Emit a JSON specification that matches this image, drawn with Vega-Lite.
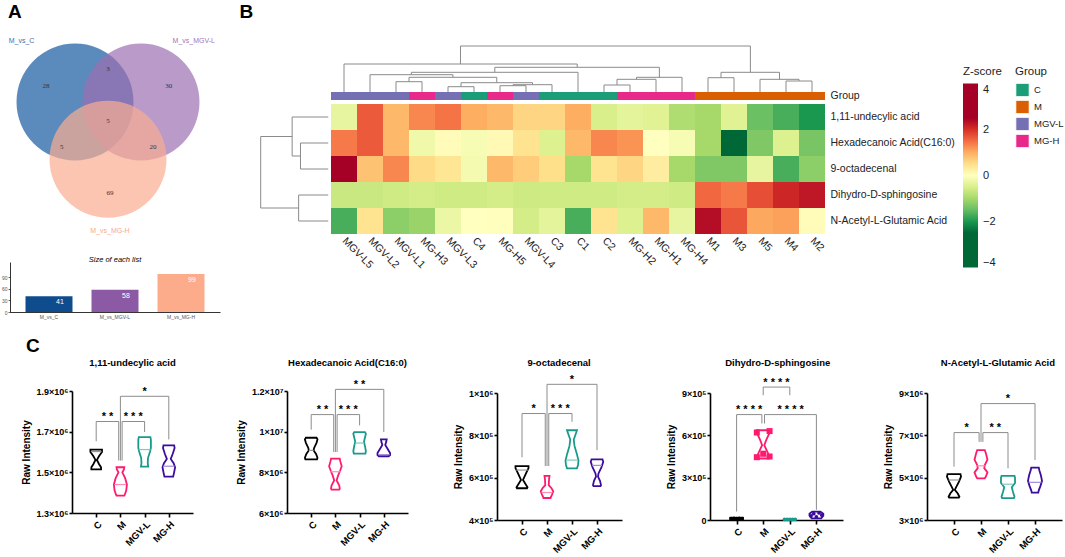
{
"$schema": "https://vega.github.io/schema/vega-lite/v6.json",
"background": "white",
"width": 1065, "height": 557, "autosize": "none", "padding": 0,
"config": {"view": {"stroke": null}, "font": "Liberation Sans",
  "axis": {"grid": false, "domainColor": "#000", "tickColor": "#000", "labelColor": "#000", "titleColor": "#000"}},
"datasets": {
 "venn": [{"set":"M_vs_C","cx":0,"cy":0},{"set":"M_vs_MGV-L","cx":1,"cy":0},{"set":"M_vs_MG-H","cx":0.5,"cy":-0.866}],
 "vennNums": [{"n":28,"x":-0.44,"y":0.24},{"n":3,"x":0.5,"y":0.5},{"n":30,"x":1.42,"y":0.24},{"n":5,"x":0.5,"y":-0.29},{"n":5,"x":-0.2,"y":-0.68},{"n":20,"x":1.18,"y":-0.68},{"n":69,"x":0.53,"y":-1.38}],
 "vennSets": [{"set":"M_vs_C","x":-0.81,"y":0.92},{"set":"M_vs_MGV-L","x":1.8,"y":0.92},{"set":"M_vs_MG-H","x":0.53,"y":-1.95}],
 "lists": [{"list":"M_vs_C","n":41},{"list":"M_vs_MGV-L","n":58},{"list":"M_vs_MG-H","n":99}],
 "rowDendro": [{"x":33,"x2":33,"y":1.5,"y2":2.5},{"x":3,"x2":33,"y":1.5,"y2":1.5},{"x":3,"x2":33,"y":2.5,"y2":2.5},
  {"x":42,"x2":42,"y":0.5,"y2":2},{"x":3,"x2":42,"y":0.5,"y2":0.5},{"x":33,"x2":42,"y":2,"y2":2},
  {"x":35,"x2":35,"y":3.5,"y2":4.5},{"x":3,"x2":35,"y":3.5,"y2":3.5},{"x":3,"x2":35,"y":4.5,"y2":4.5},
  {"x":76,"x2":76,"y":1.25,"y2":4},{"x":42,"x2":76,"y":1.25,"y2":1.25},{"x":35,"x2":76,"y":4,"y2":4}],
 "colDendro": [
  {"x":2.5,"x2":3.5,"y":10.3,"y2":10.3},{"x":2.5,"x2":2.5,"y":0,"y2":10.3},{"x":3.5,"x2":3.5,"y":0,"y2":10.3},
  {"x":4.5,"x2":5.5,"y":5.3,"y2":5.3},{"x":4.5,"x2":4.5,"y":0,"y2":5.3},{"x":5.5,"x2":5.5,"y":0,"y2":5.3},
  {"x":6.5,"x2":7.5,"y":6.3,"y2":6.3},{"x":6.5,"x2":6.5,"y":0,"y2":6.3},{"x":7.5,"x2":7.5,"y":0,"y2":6.3},
  {"x":7,"x2":8.5,"y":7.3,"y2":7.3},{"x":7,"x2":7,"y":6.3,"y2":7.3},{"x":8.5,"x2":8.5,"y":0,"y2":7.3},
  {"x":5,"x2":7.75,"y":9.3,"y2":9.3},{"x":5,"x2":5,"y":5.3,"y2":9.3},{"x":7.75,"x2":7.75,"y":7.3,"y2":9.3},
  {"x":3,"x2":6.375,"y":14.7,"y2":14.7},{"x":3,"x2":3,"y":10.3,"y2":14.7},{"x":6.375,"x2":6.375,"y":9.3,"y2":14.7},
  {"x":1.5,"x2":4.69,"y":17.3,"y2":17.3},{"x":1.5,"x2":1.5,"y":0,"y2":17.3},{"x":4.69,"x2":4.69,"y":14.7,"y2":17.3},
  {"x":3.09,"x2":9.5,"y":19.7,"y2":19.7},{"x":3.09,"x2":3.09,"y":17.3,"y2":19.7},{"x":9.5,"x2":9.5,"y":0,"y2":19.7},
  {"x":10.5,"x2":11.5,"y":7,"y2":7},{"x":10.5,"x2":10.5,"y":0,"y2":7},{"x":11.5,"x2":11.5,"y":0,"y2":7},
  {"x":11,"x2":12.5,"y":12.7,"y2":12.7},{"x":11,"x2":11,"y":7,"y2":12.7},{"x":12.5,"x2":12.5,"y":0,"y2":12.7},
  {"x":11.75,"x2":13.5,"y":14.7,"y2":14.7},{"x":11.75,"x2":11.75,"y":12.7,"y2":14.7},{"x":13.5,"x2":13.5,"y":0,"y2":14.7},
  {"x":6.3,"x2":12.63,"y":24.7,"y2":24.7},{"x":6.3,"x2":6.3,"y":19.7,"y2":24.7},{"x":12.63,"x2":12.63,"y":14.7,"y2":24.7},
  {"x":0.5,"x2":9.47,"y":28,"y2":28},{"x":0.5,"x2":0.5,"y":0,"y2":28},{"x":9.47,"x2":9.47,"y":24.7,"y2":28},
  {"x":14.5,"x2":15.5,"y":14.3,"y2":14.3},{"x":14.5,"x2":14.5,"y":0,"y2":14.3},{"x":15.5,"x2":15.5,"y":0,"y2":14.3},
  {"x":17.5,"x2":18.5,"y":11,"y2":11},{"x":17.5,"x2":17.5,"y":0,"y2":11},{"x":18.5,"x2":18.5,"y":0,"y2":11},
  {"x":16.5,"x2":18,"y":12.7,"y2":12.7},{"x":16.5,"x2":16.5,"y":0,"y2":12.7},{"x":18,"x2":18,"y":11,"y2":12.7},
  {"x":15,"x2":17.25,"y":19.7,"y2":19.7},{"x":15,"x2":15,"y":14.3,"y2":19.7},{"x":17.25,"x2":17.25,"y":12.7,"y2":19.7},
  {"x":4.98,"x2":16.13,"y":46,"y2":46},{"x":4.98,"x2":4.98,"y":28,"y2":46},{"x":16.13,"x2":16.13,"y":19.7,"y2":46}],
 "groups": [{"s":"MGV-L5","grp":"MGV-L"},{"s":"MGV-L2","grp":"MGV-L"},{"s":"MGV-L1","grp":"MGV-L"},{"s":"MG-H3","grp":"MG-H"},{"s":"MGV-L3","grp":"MGV-L"},{"s":"C4","grp":"C"},{"s":"MG-H5","grp":"MG-H"},{"s":"MGV-L4","grp":"MGV-L"},{"s":"C3","grp":"C"},{"s":"C1","grp":"C"},{"s":"C2","grp":"C"},{"s":"MG-H2","grp":"MG-H"},{"s":"MG-H1","grp":"MG-H"},{"s":"MG-H4","grp":"MG-H"},{"s":"M1","grp":"M"},{"s":"M3","grp":"M"},{"s":"M5","grp":"M"},{"s":"M4","grp":"M"},{"s":"M2","grp":"M"}],
 "heat": [
  {"m":"1,11-undecylic acid","s":"MGV-L5","z":-0.3},{"m":"1,11-undecylic acid","s":"MGV-L2","z":1.65},{"m":"1,11-undecylic acid","s":"MGV-L1","z":0.9},{"m":"1,11-undecylic acid","s":"MG-H3","z":1.3},{"m":"1,11-undecylic acid","s":"MGV-L3","z":1.45},{"m":"1,11-undecylic acid","s":"C4","z":1.0},{"m":"1,11-undecylic acid","s":"MG-H5","z":0.9},{"m":"1,11-undecylic acid","s":"MGV-L4","z":0.6},{"m":"1,11-undecylic acid","s":"C3","z":0.6},{"m":"1,11-undecylic acid","s":"C1","z":1.0},{"m":"1,11-undecylic acid","s":"C2","z":-0.5},{"m":"1,11-undecylic acid","s":"MG-H2","z":-0.35},{"m":"1,11-undecylic acid","s":"MG-H1","z":-0.4},{"m":"1,11-undecylic acid","s":"MG-H4","z":-0.9},{"m":"1,11-undecylic acid","s":"M1","z":-1.0},{"m":"1,11-undecylic acid","s":"M3","z":-0.4},{"m":"1,11-undecylic acid","s":"M5","z":-1.45},{"m":"1,11-undecylic acid","s":"M4","z":-1.7},{"m":"1,11-undecylic acid","s":"M2","z":-2.0},
  {"m":"Hexadecanoic Acid(C16:0)","s":"MGV-L5","z":1.4},{"m":"Hexadecanoic Acid(C16:0)","s":"MGV-L2","z":1.65},{"m":"Hexadecanoic Acid(C16:0)","s":"MGV-L1","z":0.9},{"m":"Hexadecanoic Acid(C16:0)","s":"MG-H3","z":-0.2},{"m":"Hexadecanoic Acid(C16:0)","s":"MGV-L3","z":0.05},{"m":"Hexadecanoic Acid(C16:0)","s":"C4","z":-0.1},{"m":"Hexadecanoic Acid(C16:0)","s":"MG-H5","z":0.1},{"m":"Hexadecanoic Acid(C16:0)","s":"MGV-L4","z":0.45},{"m":"Hexadecanoic Acid(C16:0)","s":"C3","z":-0.45},{"m":"Hexadecanoic Acid(C16:0)","s":"C1","z":0.9},{"m":"Hexadecanoic Acid(C16:0)","s":"C2","z":1.3},{"m":"Hexadecanoic Acid(C16:0)","s":"MG-H2","z":1.2},{"m":"Hexadecanoic Acid(C16:0)","s":"MG-H1","z":0.0},{"m":"Hexadecanoic Acid(C16:0)","s":"MG-H4","z":-0.1},{"m":"Hexadecanoic Acid(C16:0)","s":"M1","z":-1.0},{"m":"Hexadecanoic Acid(C16:0)","s":"M3","z":-3.0},{"m":"Hexadecanoic Acid(C16:0)","s":"M5","z":-1.3},{"m":"Hexadecanoic Acid(C16:0)","s":"M4","z":-0.45},{"m":"Hexadecanoic Acid(C16:0)","s":"M2","z":-1.35},
  {"m":"9-octadecenal","s":"MGV-L5","z":3.0},{"m":"9-octadecenal","s":"MGV-L2","z":0.8},{"m":"9-octadecenal","s":"MGV-L1","z":1.3},{"m":"9-octadecenal","s":"MG-H3","z":0.55},{"m":"9-octadecenal","s":"MGV-L3","z":0.4},{"m":"9-octadecenal","s":"C4","z":-0.15},{"m":"9-octadecenal","s":"MG-H5","z":0.9},{"m":"9-octadecenal","s":"MGV-L4","z":0.7},{"m":"9-octadecenal","s":"C3","z":0.5},{"m":"9-octadecenal","s":"C1","z":-1.0},{"m":"9-octadecenal","s":"C2","z":0.45},{"m":"9-octadecenal","s":"MG-H2","z":0.6},{"m":"9-octadecenal","s":"MG-H1","z":0.3},{"m":"9-octadecenal","s":"MG-H4","z":-1.0},{"m":"9-octadecenal","s":"M1","z":-1.3},{"m":"9-octadecenal","s":"M3","z":-1.3},{"m":"9-octadecenal","s":"M5","z":-0.3},{"m":"9-octadecenal","s":"M4","z":-1.7},{"m":"9-octadecenal","s":"M2","z":-1.2},
  {"m":"Dihydro-D-sphingosine","s":"MGV-L5","z":-0.65},{"m":"Dihydro-D-sphingosine","s":"MGV-L2","z":-0.65},{"m":"Dihydro-D-sphingosine","s":"MGV-L1","z":-0.6},{"m":"Dihydro-D-sphingosine","s":"MG-H3","z":-0.55},{"m":"Dihydro-D-sphingosine","s":"MGV-L3","z":-0.6},{"m":"Dihydro-D-sphingosine","s":"C4","z":-0.6},{"m":"Dihydro-D-sphingosine","s":"MG-H5","z":-0.55},{"m":"Dihydro-D-sphingosine","s":"MGV-L4","z":-0.62},{"m":"Dihydro-D-sphingosine","s":"C3","z":-0.6},{"m":"Dihydro-D-sphingosine","s":"C1","z":-0.6},{"m":"Dihydro-D-sphingosine","s":"C2","z":-0.6},{"m":"Dihydro-D-sphingosine","s":"MG-H2","z":-0.55},{"m":"Dihydro-D-sphingosine","s":"MG-H1","z":-0.55},{"m":"Dihydro-D-sphingosine","s":"MG-H4","z":-0.6},{"m":"Dihydro-D-sphingosine","s":"M1","z":1.55},{"m":"Dihydro-D-sphingosine","s":"M3","z":1.4},{"m":"Dihydro-D-sphingosine","s":"M5","z":1.75},{"m":"Dihydro-D-sphingosine","s":"M4","z":2.1},{"m":"Dihydro-D-sphingosine","s":"M2","z":2.25},
  {"m":"N-Acetyl-L-Glutamic Acid","s":"MGV-L5","z":-1.7},{"m":"N-Acetyl-L-Glutamic Acid","s":"MGV-L2","z":0.45},{"m":"N-Acetyl-L-Glutamic Acid","s":"MGV-L1","z":-1.2},{"m":"N-Acetyl-L-Glutamic Acid","s":"MG-H3","z":-1.1},{"m":"N-Acetyl-L-Glutamic Acid","s":"MGV-L3","z":-0.25},{"m":"N-Acetyl-L-Glutamic Acid","s":"C4","z":0.0},{"m":"N-Acetyl-L-Glutamic Acid","s":"MG-H5","z":0.02},{"m":"N-Acetyl-L-Glutamic Acid","s":"MGV-L4","z":-0.55},{"m":"N-Acetyl-L-Glutamic Acid","s":"C3","z":-0.35},{"m":"N-Acetyl-L-Glutamic Acid","s":"C1","z":-1.7},{"m":"N-Acetyl-L-Glutamic Acid","s":"C2","z":0.45},{"m":"N-Acetyl-L-Glutamic Acid","s":"MG-H2","z":-0.45},{"m":"N-Acetyl-L-Glutamic Acid","s":"MG-H1","z":0.9},{"m":"N-Acetyl-L-Glutamic Acid","s":"MG-H4","z":-0.3},{"m":"N-Acetyl-L-Glutamic Acid","s":"M1","z":2.35},{"m":"N-Acetyl-L-Glutamic Acid","s":"M3","z":1.7},{"m":"N-Acetyl-L-Glutamic Acid","s":"M5","z":1.05},{"m":"N-Acetyl-L-Glutamic Acid","s":"M4","z":1.1},{"m":"N-Acetyl-L-Glutamic Acid","s":"M2","z":0.05}],
 "violin": [
  {"p":1,"g":"C","v":1612000,"lo":0.76,"hi":1.24},{"p":1,"g":"C","v":1600000,"lo":0.76,"hi":1.24},{"p":1,"g":"C","v":1580000,"lo":0.88,"hi":1.12},{"p":1,"g":"C","v":1561000,"lo":0.97,"hi":1.03},{"p":1,"g":"C","v":1540000,"lo":0.88,"hi":1.12},{"p":1,"g":"C","v":1525000,"lo":0.8,"hi":1.2},{"p":1,"g":"C","v":1515000,"lo":0.8,"hi":1.2},
  {"p":1,"g":"M","v":1525000,"lo":1.84,"hi":2.16},{"p":1,"g":"M","v":1515000,"lo":1.85,"hi":2.15},{"p":1,"g":"M","v":1500000,"lo":1.92,"hi":2.08},{"p":1,"g":"M","v":1470000,"lo":1.8,"hi":2.2},{"p":1,"g":"M","v":1440000,"lo":1.73,"hi":2.27},{"p":1,"g":"M","v":1410000,"lo":1.76,"hi":2.24},{"p":1,"g":"M","v":1390000,"lo":1.82,"hi":2.18},{"p":1,"g":"M","v":1385000,"lo":1.84,"hi":2.16},
  {"p":1,"g":"MGV-L","v":1673000,"lo":2.76,"hi":3.24},{"p":1,"g":"MGV-L","v":1660000,"lo":2.74,"hi":3.26},{"p":1,"g":"MGV-L","v":1620000,"lo":2.74,"hi":3.26},{"p":1,"g":"MGV-L","v":1600000,"lo":2.78,"hi":3.22},{"p":1,"g":"MGV-L","v":1570000,"lo":2.86,"hi":3.14},{"p":1,"g":"MGV-L","v":1545000,"lo":2.87,"hi":3.13},{"p":1,"g":"MGV-L","v":1528000,"lo":2.85,"hi":3.15},
  {"p":1,"g":"MG-H","v":1633000,"lo":3.78,"hi":4.22},{"p":1,"g":"MG-H","v":1620000,"lo":3.76,"hi":4.24},{"p":1,"g":"MG-H","v":1590000,"lo":3.84,"hi":4.16},{"p":1,"g":"MG-H","v":1566000,"lo":3.92,"hi":4.08},{"p":1,"g":"MG-H","v":1545000,"lo":3.8,"hi":4.2},{"p":1,"g":"MG-H","v":1525000,"lo":3.74,"hi":4.26},{"p":1,"g":"MG-H","v":1500000,"lo":3.78,"hi":4.22},{"p":1,"g":"MG-H","v":1479000,"lo":3.82,"hi":4.18},
  {"p":2,"g":"C","v":9700000,"lo":0.78,"hi":1.22},{"p":2,"g":"C","v":9620000,"lo":0.74,"hi":1.26},{"p":2,"g":"C","v":9450000,"lo":0.78,"hi":1.22},{"p":2,"g":"C","v":9200000,"lo":0.88,"hi":1.12},{"p":2,"g":"C","v":9080000,"lo":0.9,"hi":1.1},{"p":2,"g":"C","v":8900000,"lo":0.8,"hi":1.2},{"p":2,"g":"C","v":8720000,"lo":0.74,"hi":1.26},{"p":2,"g":"C","v":8640000,"lo":0.76,"hi":1.24},
  {"p":2,"g":"M","v":8670000,"lo":1.82,"hi":2.18},{"p":2,"g":"M","v":8550000,"lo":1.8,"hi":2.2},{"p":2,"g":"M","v":8300000,"lo":1.74,"hi":2.26},{"p":2,"g":"M","v":8100000,"lo":1.8,"hi":2.2},{"p":2,"g":"M","v":7800000,"lo":1.9,"hi":2.1},{"p":2,"g":"M","v":7600000,"lo":1.95,"hi":2.05},{"p":2,"g":"M","v":7350000,"lo":1.84,"hi":2.16},{"p":2,"g":"M","v":7200000,"lo":1.82,"hi":2.18},{"p":2,"g":"M","v":7150000,"lo":1.84,"hi":2.16},
  {"p":2,"g":"MGV-L","v":9980000,"lo":2.78,"hi":3.22},{"p":2,"g":"MGV-L","v":9900000,"lo":2.74,"hi":3.26},{"p":2,"g":"MGV-L","v":9700000,"lo":2.78,"hi":3.22},{"p":2,"g":"MGV-L","v":9500000,"lo":2.82,"hi":3.18},{"p":2,"g":"MGV-L","v":9300000,"lo":2.78,"hi":3.22},{"p":2,"g":"MGV-L","v":9050000,"lo":2.74,"hi":3.26},{"p":2,"g":"MGV-L","v":8920000,"lo":2.76,"hi":3.24},
  {"p":2,"g":"MG-H","v":9620000,"lo":3.88,"hi":4.12},{"p":2,"g":"MG-H","v":9500000,"lo":3.9,"hi":4.1},{"p":2,"g":"MG-H","v":9350000,"lo":3.94,"hi":4.06},{"p":2,"g":"MG-H","v":9150000,"lo":3.84,"hi":4.16},{"p":2,"g":"MG-H","v":8950000,"lo":3.74,"hi":4.26},{"p":2,"g":"MG-H","v":8850000,"lo":3.74,"hi":4.26},{"p":2,"g":"MG-H","v":8790000,"lo":3.8,"hi":4.2},
  {"p":3,"g":"C","v":655000,"lo":0.74,"hi":1.26},{"p":3,"g":"C","v":645000,"lo":0.74,"hi":1.26},{"p":3,"g":"C","v":620000,"lo":0.84,"hi":1.16},{"p":3,"g":"C","v":589000,"lo":0.96,"hi":1.04},{"p":3,"g":"C","v":570000,"lo":0.86,"hi":1.14},{"p":3,"g":"C","v":555000,"lo":0.78,"hi":1.22},{"p":3,"g":"C","v":550000,"lo":0.8,"hi":1.2},
  {"p":3,"g":"M","v":608000,"lo":1.9,"hi":2.1},{"p":3,"g":"M","v":590000,"lo":1.92,"hi":2.08},{"p":3,"g":"M","v":565000,"lo":1.93,"hi":2.07},{"p":3,"g":"M","v":550000,"lo":1.82,"hi":2.18},{"p":3,"g":"M","v":535000,"lo":1.75,"hi":2.25},{"p":3,"g":"M","v":520000,"lo":1.8,"hi":2.2},{"p":3,"g":"M","v":504000,"lo":1.86,"hi":2.14},
  {"p":3,"g":"MGV-L","v":824000,"lo":2.8,"hi":3.2},{"p":3,"g":"MGV-L","v":810000,"lo":2.84,"hi":3.16},{"p":3,"g":"MGV-L","v":780000,"lo":2.93,"hi":3.07},{"p":3,"g":"MGV-L","v":750000,"lo":2.9,"hi":3.1},{"p":3,"g":"MGV-L","v":710000,"lo":2.8,"hi":3.2},{"p":3,"g":"MGV-L","v":680000,"lo":2.74,"hi":3.26},{"p":3,"g":"MGV-L","v":660000,"lo":2.76,"hi":3.24},{"p":3,"g":"MGV-L","v":644000,"lo":2.8,"hi":3.2},
  {"p":3,"g":"MG-H","v":686000,"lo":3.78,"hi":4.22},{"p":3,"g":"MG-H","v":675000,"lo":3.75,"hi":4.25},{"p":3,"g":"MG-H","v":650000,"lo":3.82,"hi":4.18},{"p":3,"g":"MG-H","v":620000,"lo":3.94,"hi":4.06},{"p":3,"g":"MG-H","v":605000,"lo":3.96,"hi":4.04},{"p":3,"g":"MG-H","v":585000,"lo":3.88,"hi":4.12},{"p":3,"g":"MG-H","v":565000,"lo":3.84,"hi":4.16},{"p":3,"g":"MG-H","v":560000,"lo":3.86,"hi":4.14},
  {"p":4,"g":"C","v":16000,"lo":0.76,"hi":1.24},{"p":4,"g":"C","v":5000,"lo":0.76,"hi":1.24},
  {"p":4,"g":"M","v":636000,"lo":1.76,"hi":2.24},{"p":4,"g":"M","v":610000,"lo":1.78,"hi":2.22},{"p":4,"g":"M","v":570000,"lo":1.88,"hi":2.12},{"p":4,"g":"M","v":530000,"lo":1.96,"hi":2.04},{"p":4,"g":"M","v":490000,"lo":1.86,"hi":2.14},{"p":4,"g":"M","v":450000,"lo":1.76,"hi":2.24},{"p":4,"g":"M","v":436000,"lo":1.78,"hi":2.22},
  {"p":4,"g":"MGV-L","v":8000,"lo":2.78,"hi":3.22},{"p":4,"g":"MGV-L","v":3000,"lo":2.78,"hi":3.22},
  {"p":4,"g":"MG-H","v":60000,"lo":3.85,"hi":4.15},{"p":4,"g":"MG-H","v":45000,"lo":3.74,"hi":4.26},{"p":4,"g":"MG-H","v":30000,"lo":3.74,"hi":4.26},{"p":4,"g":"MG-H","v":12000,"lo":3.82,"hi":4.18},
  {"p":5,"g":"C","v":5170000,"lo":0.76,"hi":1.24},{"p":5,"g":"C","v":5050000,"lo":0.74,"hi":1.26},{"p":5,"g":"C","v":4800000,"lo":0.82,"hi":1.18},{"p":5,"g":"C","v":4550000,"lo":0.92,"hi":1.08},{"p":5,"g":"C","v":4420000,"lo":0.97,"hi":1.03},{"p":5,"g":"C","v":4250000,"lo":0.86,"hi":1.14},{"p":5,"g":"C","v":4100000,"lo":0.8,"hi":1.2},{"p":5,"g":"C","v":4060000,"lo":0.82,"hi":1.18},
  {"p":5,"g":"M","v":6300000,"lo":1.86,"hi":2.14},{"p":5,"g":"M","v":6150000,"lo":1.82,"hi":2.18},{"p":5,"g":"M","v":5850000,"lo":1.76,"hi":2.24},{"p":5,"g":"M","v":5600000,"lo":1.86,"hi":2.14},{"p":5,"g":"M","v":5450000,"lo":1.88,"hi":2.12},{"p":5,"g":"M","v":5250000,"lo":1.76,"hi":2.24},{"p":5,"g":"M","v":5050000,"lo":1.82,"hi":2.18},{"p":5,"g":"M","v":4970000,"lo":1.86,"hi":2.14},
  {"p":5,"g":"MGV-L","v":5080000,"lo":2.76,"hi":3.24},{"p":5,"g":"MGV-L","v":5000000,"lo":2.74,"hi":3.26},{"p":5,"g":"MGV-L","v":4750000,"lo":2.74,"hi":3.26},{"p":5,"g":"MGV-L","v":4550000,"lo":2.86,"hi":3.14},{"p":5,"g":"MGV-L","v":4350000,"lo":2.82,"hi":3.18},{"p":5,"g":"MGV-L","v":4100000,"lo":2.76,"hi":3.24},{"p":5,"g":"MGV-L","v":4030000,"lo":2.78,"hi":3.22},
  {"p":5,"g":"MG-H","v":5470000,"lo":3.86,"hi":4.14},{"p":5,"g":"MG-H","v":5350000,"lo":3.84,"hi":4.16},{"p":5,"g":"MG-H","v":5100000,"lo":3.78,"hi":4.22},{"p":5,"g":"MG-H","v":4850000,"lo":3.74,"hi":4.26},{"p":5,"g":"MG-H","v":4600000,"lo":3.8,"hi":4.2},{"p":5,"g":"MG-H","v":4400000,"lo":3.86,"hi":4.14},{"p":5,"g":"MG-H","v":4290000,"lo":3.88,"hi":4.12}],
 "medians": [
  {"p":1,"g":"C","v":1602000,"lo":0.78,"hi":1.22},{"p":1,"g":"M","v":1440000,"lo":1.76,"hi":2.24},{"p":1,"g":"MGV-L","v":1612000,"lo":2.76,"hi":3.24},{"p":1,"g":"MG-H","v":1530000,"lo":3.76,"hi":4.24},
  {"p":2,"g":"C","v":9080000,"lo":0.9,"hi":1.1},{"p":2,"g":"M","v":8030000,"lo":1.79,"hi":2.21},{"p":2,"g":"MGV-L","v":9440000,"lo":2.81,"hi":3.19},{"p":2,"g":"MG-H","v":8870000,"lo":3.76,"hi":4.24},
  {"p":3,"g":"C","v":636000,"lo":0.77,"hi":1.23},{"p":3,"g":"M","v":530000,"lo":1.78,"hi":2.22},{"p":3,"g":"MGV-L","v":683000,"lo":2.76,"hi":3.24},{"p":3,"g":"MG-H","v":658000,"lo":3.8,"hi":4.2},
  {"p":4,"g":"M","v":453000,"lo":1.78,"hi":2.22},
  {"p":5,"g":"C","v":4890000,"lo":0.8,"hi":1.2},{"p":5,"g":"M","v":5560000,"lo":1.86,"hi":2.14},{"p":5,"g":"MGV-L","v":4690000,"lo":2.78,"hi":3.18},{"p":5,"g":"MG-H","v":4780000,"lo":3.76,"hi":4.24}],
 "brackets": [
  {"p":1,"x":1,"x2":1,"y":1653000,"y2":1750000},{"p":1,"x":1,"x2":1.93,"y":1750000,"y2":1750000},{"p":1,"x":1.93,"x2":1.93,"y":1558000,"y2":1750000},{"p":1,"x":2.07,"x2":2.07,"y":1558000,"y2":1750000},{"p":1,"x":2.07,"x2":3,"y":1750000,"y2":1750000},{"p":1,"x":3,"x2":3,"y":1698000,"y2":1750000},{"p":1,"x":2,"x2":2,"y":1558000,"y2":1874000},{"p":1,"x":2,"x2":4,"y":1874000,"y2":1874000},{"p":1,"x":4,"x2":4,"y":1662000,"y2":1874000},
  {"p":2,"x":1,"x2":1,"y":10100000,"y2":10840000},{"p":2,"x":1,"x2":1.93,"y":10840000,"y2":10840000},{"p":2,"x":1.93,"x2":1.93,"y":9000000,"y2":10840000},{"p":2,"x":2.07,"x2":2.07,"y":9000000,"y2":10840000},{"p":2,"x":2.07,"x2":3,"y":10840000,"y2":10840000},{"p":2,"x":3,"x2":3,"y":10310000,"y2":10840000},{"p":2,"x":2,"x2":2,"y":9000000,"y2":12080000},{"p":2,"x":2,"x2":4,"y":12080000,"y2":12080000},{"p":2,"x":4,"x2":4,"y":9980000,"y2":12080000},
  {"p":3,"x":1,"x2":1,"y":696000,"y2":903000},{"p":3,"x":1,"x2":1.93,"y":903000,"y2":903000},{"p":3,"x":1.93,"x2":1.93,"y":655000,"y2":903000},{"p":3,"x":2.07,"x2":2.07,"y":655000,"y2":903000},{"p":3,"x":2.07,"x2":3,"y":903000,"y2":903000},{"p":3,"x":3,"x2":3,"y":864000,"y2":903000},{"p":3,"x":2,"x2":2,"y":655000,"y2":1041000},{"p":3,"x":2,"x2":4,"y":1041000,"y2":1041000},{"p":3,"x":4,"x2":4,"y":730000,"y2":1041000},
  {"p":4,"x":1,"x2":1,"y":60000,"y2":747000},{"p":4,"x":1,"x2":1.95,"y":747000,"y2":747000},{"p":4,"x":1.95,"x2":1.95,"y":684000,"y2":747000},{"p":4,"x":2.05,"x2":2.05,"y":684000,"y2":747000},{"p":4,"x":2.05,"x2":4,"y":747000,"y2":747000},{"p":4,"x":4,"x2":4,"y":72000,"y2":747000},{"p":4,"x":2,"x2":2,"y":884000,"y2":942000},{"p":4,"x":2,"x2":3,"y":942000,"y2":942000},{"p":4,"x":3,"x2":3,"y":884000,"y2":942000},
  {"p":5,"x":1,"x2":1,"y":5520000,"y2":7130000},{"p":5,"x":1,"x2":1.93,"y":7130000,"y2":7130000},{"p":5,"x":1.93,"x2":1.93,"y":6690000,"y2":7130000},{"p":5,"x":2.07,"x2":2.07,"y":6690000,"y2":7130000},{"p":5,"x":2.07,"x2":3,"y":7130000,"y2":7130000},{"p":5,"x":3,"x2":3,"y":5440000,"y2":7130000},{"p":5,"x":2,"x2":2,"y":6690000,"y2":8500000},{"p":5,"x":2,"x2":4,"y":8500000,"y2":8500000},{"p":5,"x":4,"x2":4,"y":5830000,"y2":8500000}],
 "stars": [
  {"p":1,"x":1.47,"v":1750000,"t":"* *"},{"p":1,"x":2.53,"v":1750000,"t":"* * *"},{"p":1,"x":3,"v":1874000,"t":"*"},
  {"p":2,"x":1.47,"v":10840000,"t":"* *"},{"p":2,"x":2.53,"v":10840000,"t":"* * *"},{"p":2,"x":3,"v":12080000,"t":"* *"},
  {"p":3,"x":1.47,"v":903000,"t":"*"},{"p":3,"x":2.53,"v":903000,"t":"* * *"},{"p":3,"x":3,"v":1041000,"t":"*"},
  {"p":4,"x":1.47,"v":747000,"t":"* * * *"},{"p":4,"x":3.03,"v":747000,"t":"* * * *"},{"p":4,"x":2.5,"v":942000,"t":"* * * *"},
  {"p":5,"x":1.47,"v":7130000,"t":"*"},{"p":5,"x":2.53,"v":7130000,"t":"* *"},{"p":5,"x":3,"v":8500000,"t":"*"}],
 "points": [
  {"g":"C","x":0.8,"v":10000},{"g":"C","x":0.9,"v":12000},{"g":"C","x":1.0,"v":9000},{"g":"C","x":1.1,"v":12000},{"g":"C","x":1.2,"v":10000},
  {"g":"M","x":1.76,"v":620000},{"g":"M","x":2.24,"v":630000},{"g":"M","x":1.76,"v":445000},{"g":"M","x":2.24,"v":450000},{"g":"M","x":2.0,"v":470000},
  {"g":"MGV-L","x":2.8,"v":5000},{"g":"MGV-L","x":2.9,"v":5000},{"g":"MGV-L","x":3.0,"v":5000},{"g":"MGV-L","x":3.1,"v":5000},{"g":"MGV-L","x":3.2,"v":5000},
  {"g":"MG-H","x":3.8,"v":30000},{"g":"MG-H","x":3.9,"v":45000},{"g":"MG-H","x":4.0,"v":22000},{"g":"MG-H","x":4.1,"v":50000},{"g":"MG-H","x":4.2,"v":35000}]
},
"resolve": {"scale": {"x": "independent", "y": "independent", "color": "independent", "fill": "independent", "stroke": "independent"}, "axis": {"x": "independent", "y": "independent"}, "legend": {"color": "independent"}},
"layer": [
 {"layer": [
   {"data": {"name": "venn"}, "mark": {"type": "point", "filled": true, "shape": "circle", "size": 13685, "opacity": 0.7, "strokeWidth": 0},
    "encoding": {"x": {"field": "cx", "type": "quantitative", "scale": {"domain": [-0.985, 2.197], "range": [10, 220], "nice": false, "zero": false}, "axis": null},
      "y": {"field": "cy", "type": "quantitative", "scale": {"domain": [-2.091, 0.879], "range": [240, 44], "nice": false, "zero": false}, "axis": null},
      "fill": {"field": "set", "type": "nominal", "scale": {"domain": ["M_vs_C","M_vs_MGV-L","M_vs_MG-H"], "range": ["#1559a1","#9b6fb0","#faac91"]}, "legend": null}}},
   {"data": {"name": "vennNums"}, "mark": {"type": "text", "font": "Liberation Serif", "fontSize": 7, "color": "#333"},
    "encoding": {"x": {"field": "x", "type": "quantitative", "scale": {"domain": [-0.985, 2.197], "range": [10, 220], "nice": false, "zero": false}, "axis": null},
      "y": {"field": "y", "type": "quantitative", "scale": {"domain": [-2.091, 0.879], "range": [240, 44], "nice": false, "zero": false}, "axis": null}, "text": {"field": "n"}}},
   {"data": {"name": "vennSets"}, "mark": {"type": "text", "fontSize": 7},
    "encoding": {"x": {"field": "x", "type": "quantitative", "scale": {"domain": [-0.985, 2.197], "range": [10, 220], "nice": false, "zero": false}, "axis": null},
      "y": {"field": "y", "type": "quantitative", "scale": {"domain": [-2.091, 0.879], "range": [240, 44], "nice": false, "zero": false}, "axis": null}, "text": {"field": "set"},
      "color": {"field": "set", "type": "nominal", "scale": {"domain": ["M_vs_C","M_vs_MGV-L","M_vs_MG-H"], "range": ["#3c6ea8","#9f77b5","#f6a98e"]}, "legend": null}}},
   {"data": {"values": [{"t": "A"}]}, "mark": {"type": "text", "fontSize": 19, "fontWeight": "bold", "align": "left", "baseline": "alphabetic", "color": "#000"},
    "encoding": {"x": {"datum": -1.015, "type": "quantitative", "scale": {"domain": [-0.985, 2.197], "range": [10, 220], "nice": false, "zero": false}, "axis": null},
      "y": {"datum": 1.273, "type": "quantitative", "scale": {"domain": [-2.091, 0.879], "range": [240, 44], "nice": false, "zero": false}, "axis": null}, "text": {"field": "t"}}}
  ]},
 {"layer": [
   {"data": {"name": "lists"}, "mark": {"type": "bar"},
    "encoding": {"x": {"field": "list", "type": "nominal", "sort": null, "scale": {"range": [10, 220], "paddingInner": 0.288, "paddingOuter": 0.235},
        "axis": {"orient": "bottom", "offset": -245, "title": null, "labelAngle": 0, "labelFontSize": 5, "labelColor": "#555", "ticks": false, "labelPadding": 2, "domainWidth": 0.8}},
      "y": {"field": "n", "type": "quantitative", "scale": {"domain": [0, 125], "range": [312, 262]},
        "axis": {"orient": "left", "offset": -10, "values": [0,30,60,90], "title": null, "labelFontSize": 5, "labelColor": "#555", "tickSize": 2, "labelPadding": 1, "domainWidth": 0.8, "tickWidth": 0.6}},
      "color": {"field": "list", "type": "nominal", "scale": {"domain": ["M_vs_C","M_vs_MGV-L","M_vs_MG-H"], "range": ["#0e4c8e","#8c5aa4","#fcab8b"]}, "legend": null}}},
   {"data": {"name": "lists"}, "mark": {"type": "text", "color": "white", "fontSize": 7, "baseline": "top", "dy": 2, "dx": 11},
    "encoding": {"x": {"field": "list", "type": "nominal", "sort": null}, "y": {"field": "n", "type": "quantitative"}, "text": {"field": "n"}}},
   {"data": {"values": [{"t": "Size of each list"}]}, "mark": {"type": "text", "fontSize": 7.5, "fontStyle": "italic", "baseline": "alphabetic", "color": "#000"},
    "encoding": {"x": {"datum": "M_vs_MGV-L", "type": "nominal"}, "y": {"datum": 130, "type": "quantitative"}, "text": {"field": "t"}}}
  ]},
 {"layer": [
   {"data": {"name": "rowDendro"}, "mark": {"type": "rule", "color": "#8a8a8a", "strokeWidth": 1},
    "encoding": {"x": {"field": "x", "type": "quantitative", "scale": {"domain": [0, 111], "range": [331, 220]}, "axis": null}, "x2": {"field": "x2"},
      "y": {"field": "y", "type": "quantitative", "scale": {"domain": [0, 5], "range": [104, 234]}, "axis": null}, "y2": {"field": "y2"}}},
   {"data": {"values": [{"t": "B"}]}, "mark": {"type": "text", "fontSize": 19, "fontWeight": "bold", "align": "left", "baseline": "alphabetic", "color": "#000"},
    "encoding": {"x": {"datum": 99, "type": "quantitative", "axis": null}, "y": {"datum": -3.308, "type": "quantitative", "axis": null}, "text": {"field": "t"}}}
  ]},
 {"data": {"name": "colDendro"}, "mark": {"type": "rule", "color": "#8a8a8a", "strokeWidth": 1},
  "encoding": {"x": {"field": "x", "type": "quantitative", "scale": {"domain": [0, 19], "range": [331, 825]}, "axis": null}, "x2": {"field": "x2"},
    "y": {"field": "y", "type": "quantitative", "scale": {"domain": [0, 46], "range": [92, 46]}, "axis": null}, "y2": {"field": "y2"}}},
 {"data": {"name": "groups"}, "mark": {"type": "rect"},
  "encoding": {"x": {"field": "s", "type": "nominal", "sort": null, "scale": {"range": [331, 825], "paddingInner": 0, "paddingOuter": 0}, "axis": null},
    "y": {"datum": "Group", "type": "nominal", "scale": {"range": [92, 100], "paddingInner": 0, "paddingOuter": 0}, "axis": {"orient": "right", "offset": -240, "title": null, "ticks": false, "domain": false, "labelFontSize": 10.5, "labelColor": "#222", "labelPadding": 5}},
    "color": {"field": "grp", "type": "nominal", "scale": {"domain": ["C","M","MGV-L","MG-H"], "range": ["#1b9e77","#d95f02","#7570b3","#e7298a"]},
      "legend": {"title": "Group", "orient": "none", "legendX": 1015, "legendY": 66, "padding": 0, "symbolType": "square", "symbolSize": 180, "symbolStrokeColor": "#ffffff", "symbolStrokeWidth": 1, "labelFontSize": 9.5, "titleFontSize": 11.5, "titleFontWeight": "normal", "titleColor": "#222", "labelColor": "#222", "rowPadding": -4, "titlePadding": 5, "labelOffset": 4}}}},
 {"data": {"name": "heat"}, "mark": {"type": "rect"},
  "encoding": {"x": {"field": "s", "type": "nominal", "sort": ["MGV-L5","MGV-L2","MGV-L1","MG-H3","MGV-L3","C4","MG-H5","MGV-L4","C3","C1","C2","MG-H2","MG-H1","MG-H4","M1","M3","M5","M4","M2"],
      "scale": {"range": [331, 825], "paddingInner": 0, "paddingOuter": 0},
      "axis": {"orient": "bottom", "offset": -323, "title": null, "labelAngle": 45, "labelAlign": "left", "labelBaseline": "middle", "ticks": false, "domain": false, "labelFontSize": 10.5, "labelColor": "#222", "labelPadding": 5}},
    "y": {"field": "m", "type": "nominal", "sort": ["1,11-undecylic acid","Hexadecanoic Acid(C16:0)","9-octadecenal","Dihydro-D-sphingosine","N-Acetyl-L-Glutamic Acid"],
      "scale": {"range": [104, 234], "paddingInner": 0, "paddingOuter": 0},
      "axis": {"orient": "right", "offset": -240, "title": null, "ticks": false, "domain": false, "labelFontSize": 10.5, "labelColor": "#222", "labelPadding": 5}},
    "color": {"field": "z", "type": "quantitative",
      "scale": {"domain": [-4,-2.5,-2,-1.5,-1,-0.5,0,0.5,1,1.5,2,2.5,4], "range": ["#006837","#006837","#1a9850","#66bd63","#a6d96a","#d9ef8b","#ffffbf","#fee08b","#fdae61","#f46d43","#d73027","#a50026","#a50026"], "interpolate": "rgb"},
      "legend": {"title": "Z-score", "orient": "none", "legendX": 963, "legendY": 66, "padding": 0, "direction": "vertical", "gradientLength": 184, "gradientThickness": 15, "values": [-4,-2,0,2,4], "labelFontSize": 11, "titleFontSize": 11.5, "titleFontWeight": "normal", "titleColor": "#222", "labelColor": "#222", "titlePadding": 6, "labelOffset": 5}}}},
 {"layer": [
   {"data": {"name": "violin"}, "transform": [{"filter": "datum.p == 1"}],
    "mark": {"type": "area", "filled": false, "strokeWidth": 1.8, "orient": "horizontal"},
    "encoding": {"y": {"field": "v", "type": "quantitative", "scale": {"domain": [1300000, 1900000], "range": [513, 391], "nice": false, "zero": false},
        "axis": {"orient": "left", "offset": -72, "title": "Raw Intensity", "titleFontSize": 10, "titleFontWeight": "bold", "titlePadding": 5, "labelFontSize": 9, "labelFontWeight": "bold", "domainWidth": 1.6, "tickWidth": 1.6, "tickSize": 3, "labelPadding": 1, "values": [1300000,1500000,1700000,1900000], "labelExpr": "format(datum.value/1e6,'.1f') + '×10⁶'"}},
      "x": {"field": "lo", "type": "quantitative", "scale": {"domain": [0.354, 4.646], "range": [72, 193]},
        "axis": {"orient": "bottom", "offset": -44, "title": null, "values": [1,2,3,4], "labelExpr": "['','C','M','MGV-L','MG-H'][datum.value]", "labelOverlap": false, "labelAngle": -45, "labelAlign": "right", "labelBaseline": "top", "labelFontSize": 9.5, "labelFontWeight": "bold", "domainWidth": 1.6, "tickWidth": 1.6, "tickSize": 4, "labelPadding": 2}},
      "x2": {"field": "hi"},
      "color": {"field": "g", "type": "nominal", "scale": {"domain": ["C","M","MGV-L","MG-H"], "range": ["#000000","#ff1a6e","#1a9a8a","#3d0c9c"]}, "legend": null}}},
   {"data": {"name": "medians"}, "transform": [{"filter": "datum.p == 1"}], "mark": {"type": "rule", "strokeWidth": 1.2},
    "encoding": {"y": {"field": "v", "type": "quantitative"}, "x": {"field": "lo", "type": "quantitative"}, "x2": {"field": "hi"},
      "stroke": {"field": "g", "type": "nominal", "scale": {"domain": ["C","M","MGV-L","MG-H"], "range": ["#9a9a9a","#ff8ab3","#7ccbbf","#a08bd8"]}, "legend": null}}},
   {"data": {"name": "brackets"}, "transform": [{"filter": "datum.p == 1"}], "mark": {"type": "rule", "color": "#8c8c8c", "strokeWidth": 1},
    "encoding": {"x": {"field": "x", "type": "quantitative"}, "x2": {"field": "x2"}, "y": {"field": "y", "type": "quantitative"}, "y2": {"field": "y2"}}},
   {"data": {"name": "stars"}, "transform": [{"filter": "datum.p == 1"}], "mark": {"type": "text", "fontSize": 11, "fontWeight": "bold", "baseline": "alphabetic", "dy": -1.5, "color": "#000"},
    "encoding": {"x": {"field": "x", "type": "quantitative"}, "y": {"field": "v", "type": "quantitative"}, "text": {"field": "t"}}},
   {"data": {"values": [{"t": "1,11-undecylic acid"}]}, "mark": {"type": "text", "fontSize": 9.5, "fontWeight": "bold", "baseline": "alphabetic", "color": "#000"},
    "encoding": {"x": {"datum": 2.5, "type": "quantitative"}, "y": {"datum": 2023000, "type": "quantitative"}, "text": {"field": "t"}}},
   {"data": {"values": [{"t": "C"}]}, "mark": {"type": "text", "fontSize": 19, "fontWeight": "bold", "align": "left", "baseline": "alphabetic", "color": "#000"},
    "encoding": {"x": {"datum": -1.905, "type": "quantitative"}, "y": {"datum": 2091800, "type": "quantitative"}, "text": {"field": "t"}}}
  ]},
 {"layer": [
   {"data": {"name": "violin"}, "transform": [{"filter": "datum.p == 2"}],
    "mark": {"type": "area", "filled": false, "strokeWidth": 1.8, "orient": "horizontal"},
    "encoding": {"y": {"field": "v", "type": "quantitative", "scale": {"domain": [6000000, 12000000], "range": [513, 391], "nice": false, "zero": false},
        "axis": {"orient": "left", "offset": -287, "title": "Raw Intensity", "titleFontSize": 10, "titleFontWeight": "bold", "titlePadding": 5, "labelFontSize": 9, "labelFontWeight": "bold", "domainWidth": 1.6, "tickWidth": 1.6, "tickSize": 3, "labelPadding": 1, "values": [6000000,8000000,10000000,12000000], "labelExpr": "datum.value >= 1e7 ? format(datum.value/1e7,'~g') + '×10⁷' : format(datum.value/1e6,'~g') + '×10⁶'"}},
      "x": {"field": "lo", "type": "quantitative", "scale": {"domain": [0.354, 4.646], "range": [287, 408]},
        "axis": {"orient": "bottom", "offset": -44, "title": null, "values": [1,2,3,4], "labelExpr": "['','C','M','MGV-L','MG-H'][datum.value]", "labelOverlap": false, "labelAngle": -45, "labelAlign": "right", "labelBaseline": "top", "labelFontSize": 9.5, "labelFontWeight": "bold", "domainWidth": 1.6, "tickWidth": 1.6, "tickSize": 4, "labelPadding": 2}},
      "x2": {"field": "hi"},
      "color": {"field": "g", "type": "nominal", "scale": {"domain": ["C","M","MGV-L","MG-H"], "range": ["#000000","#ff1a6e","#1a9a8a","#3d0c9c"]}, "legend": null}}},
   {"data": {"name": "medians"}, "transform": [{"filter": "datum.p == 2"}], "mark": {"type": "rule", "strokeWidth": 1.2},
    "encoding": {"y": {"field": "v", "type": "quantitative"}, "x": {"field": "lo", "type": "quantitative"}, "x2": {"field": "hi"},
      "stroke": {"field": "g", "type": "nominal", "scale": {"domain": ["C","M","MGV-L","MG-H"], "range": ["#9a9a9a","#ff8ab3","#7ccbbf","#a08bd8"]}, "legend": null}}},
   {"data": {"name": "brackets"}, "transform": [{"filter": "datum.p == 2"}], "mark": {"type": "rule", "color": "#8c8c8c", "strokeWidth": 1},
    "encoding": {"x": {"field": "x", "type": "quantitative"}, "x2": {"field": "x2"}, "y": {"field": "y", "type": "quantitative"}, "y2": {"field": "y2"}}},
   {"data": {"name": "stars"}, "transform": [{"filter": "datum.p == 2"}], "mark": {"type": "text", "fontSize": 11, "fontWeight": "bold", "baseline": "alphabetic", "dy": -1.5, "color": "#000"},
    "encoding": {"x": {"field": "x", "type": "quantitative"}, "y": {"field": "v", "type": "quantitative"}, "text": {"field": "t"}}},
   {"data": {"values": [{"t": "Hexadecanoic Acid(C16:0)"}]}, "mark": {"type": "text", "fontSize": 9.5, "fontWeight": "bold", "baseline": "alphabetic", "color": "#000"},
    "encoding": {"x": {"datum": 2.5, "type": "quantitative"}, "y": {"datum": 13230000, "type": "quantitative"}, "text": {"field": "t"}}}
  ]},
 {"layer": [
   {"data": {"name": "violin"}, "transform": [{"filter": "datum.p == 3"}],
    "mark": {"type": "area", "filled": false, "strokeWidth": 1.8, "orient": "horizontal"},
    "encoding": {"y": {"field": "v", "type": "quantitative", "scale": {"domain": [400000, 1000000], "range": [520, 393], "nice": false, "zero": false},
        "axis": {"orient": "left", "offset": -497, "title": "Raw Intensity", "titleFontSize": 10, "titleFontWeight": "bold", "titlePadding": 5, "labelFontSize": 9, "labelFontWeight": "bold", "domainWidth": 1.6, "tickWidth": 1.6, "tickSize": 3, "labelPadding": 1, "values": [400000,600000,800000,1000000], "labelExpr": "datum.value >= 1e6 ? '1×10⁶' : format(datum.value/1e5,'~g') + '×10⁵'"}},
      "x": {"field": "lo", "type": "quantitative", "scale": {"domain": [0.376, 4.59], "range": [497, 622]},
        "axis": {"orient": "bottom", "offset": -37, "title": null, "values": [1,2,3,4], "labelExpr": "['','C','M','MGV-L','MG-H'][datum.value]", "labelOverlap": false, "labelAngle": -45, "labelAlign": "right", "labelBaseline": "top", "labelFontSize": 9.5, "labelFontWeight": "bold", "domainWidth": 1.6, "tickWidth": 1.6, "tickSize": 4, "labelPadding": 2}},
      "x2": {"field": "hi"},
      "color": {"field": "g", "type": "nominal", "scale": {"domain": ["C","M","MGV-L","MG-H"], "range": ["#000000","#ff1a6e","#1a9a8a","#3d0c9c"]}, "legend": null}}},
   {"data": {"name": "medians"}, "transform": [{"filter": "datum.p == 3"}], "mark": {"type": "rule", "strokeWidth": 1.2},
    "encoding": {"y": {"field": "v", "type": "quantitative"}, "x": {"field": "lo", "type": "quantitative"}, "x2": {"field": "hi"},
      "stroke": {"field": "g", "type": "nominal", "scale": {"domain": ["C","M","MGV-L","MG-H"], "range": ["#9a9a9a","#ff8ab3","#7ccbbf","#a08bd8"]}, "legend": null}}},
   {"data": {"name": "brackets"}, "transform": [{"filter": "datum.p == 3"}], "mark": {"type": "rule", "color": "#8c8c8c", "strokeWidth": 1},
    "encoding": {"x": {"field": "x", "type": "quantitative"}, "x2": {"field": "x2"}, "y": {"field": "y", "type": "quantitative"}, "y2": {"field": "y2"}}},
   {"data": {"name": "stars"}, "transform": [{"filter": "datum.p == 3"}], "mark": {"type": "text", "fontSize": 11, "fontWeight": "bold", "baseline": "alphabetic", "dy": -1.5, "color": "#000"},
    "encoding": {"x": {"field": "x", "type": "quantitative"}, "y": {"field": "v", "type": "quantitative"}, "text": {"field": "t"}}},
   {"data": {"values": [{"t": "9-octadecenal"}]}, "mark": {"type": "text", "fontSize": 9.5, "fontWeight": "bold", "baseline": "alphabetic", "color": "#000"},
    "encoding": {"x": {"datum": 2.483, "type": "quantitative"}, "y": {"datum": 1127600, "type": "quantitative"}, "text": {"field": "t"}}}
  ]},
 {"layer": [
   {"data": {"name": "violin"}, "transform": [{"filter": "datum.p == 4"}],
    "mark": {"type": "area", "filled": false, "strokeWidth": 1.8, "orient": "horizontal"},
    "encoding": {"y": {"field": "v", "type": "quantitative", "scale": {"domain": [0, 900000], "range": [520, 393], "nice": false, "zero": false},
        "axis": {"orient": "left", "offset": -710, "title": "Raw Intensity", "titleFontSize": 10, "titleFontWeight": "bold", "titlePadding": 5, "labelFontSize": 9, "labelFontWeight": "bold", "domainWidth": 1.6, "tickWidth": 1.6, "tickSize": 3, "labelPadding": 1, "values": [0,300000,600000,900000], "labelExpr": "datum.value == 0 ? '0' : format(datum.value/1e5,'~g') + '×10⁵'"}},
      "x": {"field": "lo", "type": "quantitative", "scale": {"domain": [0.286, 4.806], "range": [710, 843]},
        "axis": {"orient": "bottom", "offset": -37, "title": null, "values": [1,2,3,4], "labelExpr": "['','C','M','MGV-L','MG-H'][datum.value]", "labelOverlap": false, "labelAngle": -45, "labelAlign": "right", "labelBaseline": "top", "labelFontSize": 9.5, "labelFontWeight": "bold", "domainWidth": 1.6, "tickWidth": 1.6, "tickSize": 4, "labelPadding": 2}},
      "x2": {"field": "hi"},
      "color": {"field": "g", "type": "nominal", "scale": {"domain": ["C","M","MGV-L","MG-H"], "range": ["#000000","#ff1a6e","#1a9a8a","#3d0c9c"]}, "legend": null}}},
   {"data": {"name": "medians"}, "transform": [{"filter": "datum.p == 4"}], "mark": {"type": "rule", "strokeWidth": 1.2},
    "encoding": {"y": {"field": "v", "type": "quantitative"}, "x": {"field": "lo", "type": "quantitative"}, "x2": {"field": "hi"},
      "stroke": {"field": "g", "type": "nominal", "scale": {"domain": ["C","M","MGV-L","MG-H"], "range": ["#9a9a9a","#ff8ab3","#7ccbbf","#a08bd8"]}, "legend": null}}},
   {"data": {"name": "points"}, "transform": [{"filter": "datum.g == 'M'"}], "mark": {"type": "point", "filled": true, "shape": "square", "size": 36, "opacity": 1},
    "encoding": {"x": {"field": "x", "type": "quantitative"}, "y": {"field": "v", "type": "quantitative"}, "color": {"field": "g", "type": "nominal", "legend": null}}},
   {"data": {"name": "points"}, "transform": [{"filter": "datum.g != 'M'"}], "mark": {"type": "point", "filled": true, "shape": "circle", "size": 14, "opacity": 1},
    "encoding": {"x": {"field": "x", "type": "quantitative"}, "y": {"field": "v", "type": "quantitative"}, "color": {"field": "g", "type": "nominal", "legend": null}}},
   {"data": {"name": "brackets"}, "transform": [{"filter": "datum.p == 4"}], "mark": {"type": "rule", "color": "#8c8c8c", "strokeWidth": 1},
    "encoding": {"x": {"field": "x", "type": "quantitative"}, "x2": {"field": "x2"}, "y": {"field": "y", "type": "quantitative"}, "y2": {"field": "y2"}}},
   {"data": {"name": "stars"}, "transform": [{"filter": "datum.p == 4"}], "mark": {"type": "text", "fontSize": 11, "fontWeight": "bold", "baseline": "alphabetic", "dy": -1.5, "color": "#000"},
    "encoding": {"x": {"field": "x", "type": "quantitative"}, "y": {"field": "v", "type": "quantitative"}, "text": {"field": "t"}}},
   {"data": {"values": [{"t": "Dihydro-D-sphingosine"}]}, "mark": {"type": "text", "fontSize": 9.5, "fontWeight": "bold", "baseline": "alphabetic", "color": "#000"},
    "encoding": {"x": {"datum": 2.546, "type": "quantitative"}, "y": {"datum": 1091300, "type": "quantitative"}, "text": {"field": "t"}}}
  ]},
 {"layer": [
   {"data": {"name": "violin"}, "transform": [{"filter": "datum.p == 5"}],
    "mark": {"type": "area", "filled": false, "strokeWidth": 1.8, "orient": "horizontal"},
    "encoding": {"y": {"field": "v", "type": "quantitative", "scale": {"domain": [3000000, 9000000], "range": [520, 393], "nice": false, "zero": false},
        "axis": {"orient": "left", "offset": -927, "title": "Raw Intensity", "titleFontSize": 10, "titleFontWeight": "bold", "titlePadding": 5, "labelFontSize": 9, "labelFontWeight": "bold", "domainWidth": 1.6, "tickWidth": 1.6, "tickSize": 3, "labelPadding": 1, "values": [3000000,5000000,7000000,9000000], "labelExpr": "format(datum.value/1e6,'~g') + '×10⁶'"}},
      "x": {"field": "lo", "type": "quantitative", "scale": {"domain": [0.34, 4.91], "range": [927, 1062]},
        "axis": {"orient": "bottom", "offset": -37, "title": null, "values": [1,2,3,4], "labelExpr": "['','C','M','MGV-L','MG-H'][datum.value]", "labelOverlap": false, "labelAngle": -45, "labelAlign": "right", "labelBaseline": "top", "labelFontSize": 9.5, "labelFontWeight": "bold", "domainWidth": 1.6, "tickWidth": 1.6, "tickSize": 4, "labelPadding": 2}},
      "x2": {"field": "hi"},
      "color": {"field": "g", "type": "nominal", "scale": {"domain": ["C","M","MGV-L","MG-H"], "range": ["#000000","#ff1a6e","#1a9a8a","#3d0c9c"]}, "legend": null}}},
   {"data": {"name": "medians"}, "transform": [{"filter": "datum.p == 5"}], "mark": {"type": "rule", "strokeWidth": 1.2},
    "encoding": {"y": {"field": "v", "type": "quantitative"}, "x": {"field": "lo", "type": "quantitative"}, "x2": {"field": "hi"},
      "stroke": {"field": "g", "type": "nominal", "scale": {"domain": ["C","M","MGV-L","MG-H"], "range": ["#9a9a9a","#ff8ab3","#7ccbbf","#a08bd8"]}, "legend": null}}},
   {"data": {"name": "brackets"}, "transform": [{"filter": "datum.p == 5"}], "mark": {"type": "rule", "color": "#8c8c8c", "strokeWidth": 1},
    "encoding": {"x": {"field": "x", "type": "quantitative"}, "x2": {"field": "x2"}, "y": {"field": "y", "type": "quantitative"}, "y2": {"field": "y2"}}},
   {"data": {"name": "stars"}, "transform": [{"filter": "datum.p == 5"}], "mark": {"type": "text", "fontSize": 11, "fontWeight": "bold", "baseline": "alphabetic", "dy": -1.5, "color": "#000"},
    "encoding": {"x": {"field": "x", "type": "quantitative"}, "y": {"field": "v", "type": "quantitative"}, "text": {"field": "t"}}},
   {"data": {"values": [{"t": "N-Acetyl-L-Glutamic Acid"}]}, "mark": {"type": "text", "fontSize": 9.5, "fontWeight": "bold", "baseline": "alphabetic", "color": "#000"},
    "encoding": {"x": {"datum": 2.625, "type": "quantitative"}, "y": {"datum": 10275600, "type": "quantitative"}, "text": {"field": "t"}}}
  ]}
]
}
